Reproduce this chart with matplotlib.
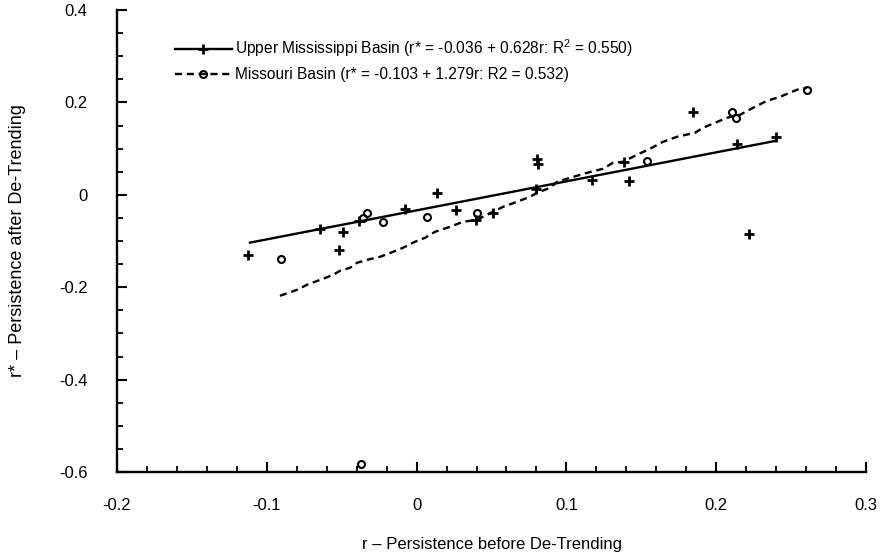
import matplotlib
import numpy as np

matplotlib.use("Agg")
import matplotlib.pyplot as plt  # noqa: E402
from matplotlib.lines import Line2D  # noqa: E402
from matplotlib.ticker import FormatStrFormatter, MultipleLocator  # noqa: E402

# Upper Mississippi Basin stations (r, r*)
upper_r = [-0.1126, -0.0645, -0.0518, -0.0491, -0.0384, -0.0077, 0.0136, 0.0263, 0.0397, 0.0510,
           0.0804, 0.0810, 0.0797, 0.1171, 0.1385, 0.1418, 0.1845, 0.2139, 0.2219, 0.2399]
upper_rstar = [-0.1299, -0.0736, -0.1190, -0.0801, -0.0563, -0.0303, 0.0043, -0.0325, -0.0541, -0.0390,
               0.0779, 0.0671, 0.0130, 0.0325, 0.0714, 0.0303, 0.1797, 0.1104, -0.0844, 0.1255]

# Missouri Basin stations (r, r*)
missouri_r = [-0.0905, -0.0358, -0.0331, -0.0224, 0.0069, 0.0403, 0.1538, 0.2105, 0.2132, 0.2606, -0.0371]
missouri_rstar = [-0.1385, -0.0498, -0.0390, -0.0584, -0.0476, -0.0390, 0.0736, 0.1797, 0.1667, 0.2273, -0.5823]

# fitted lines as drawn in the figure
upper_fit_r = [-0.112, 0.240]
upper_fit_rstar = [-0.104, 0.117]
missouri_fit_r = [-0.0912, -0.0798, -0.0732, -0.0625, -0.0558, -0.0511, -0.0444, -0.0398, -0.0331, -0.0244,
                  -0.0157, -0.0091, -0.0011, 0.0056, 0.0123, 0.0223, 0.0310, 0.0403, 0.0470, 0.0577,
                  0.0670, 0.0757, 0.0804, 0.0891, 0.0937, 0.1024, 0.1138, 0.1244, 0.1311, 0.1378,
                  0.1471, 0.1558, 0.1645, 0.1738, 0.1858, 0.1912, 0.1992, 0.2072, 0.2159, 0.2246,
                  0.2339, 0.2426, 0.2539, 0.2606]
missouri_fit_rstar = [-0.2186, -0.2056, -0.1948, -0.1818, -0.1732, -0.1645, -0.1580, -0.1472, -0.1407, -0.1342,
                      -0.1234, -0.1147, -0.1017, -0.0931, -0.0801, -0.0693, -0.0584, -0.0541, -0.0433, -0.0260,
                      -0.0152, -0.0043, 0.0043, 0.0152, 0.0281, 0.0368, 0.0476, 0.0563, 0.0693, 0.0714,
                      0.0866, 0.0996, 0.1147, 0.1255, 0.1342, 0.1450, 0.1558, 0.1667, 0.1732, 0.1883,
                      0.2035, 0.2121, 0.2273, 0.2316]

upper_label = "Upper Mississippi Basin (r* = -0.036 + 0.628r: R$^2$ = 0.550)"
missouri_label = "Missouri Basin (r* = -0.103 + 1.279r: R2 = 0.532)"

plt.rcParams["font.family"] = ["Liberation Sans", "DejaVu Sans"]
plt.rcParams["mathtext.fontset"] = "custom"
plt.rcParams["mathtext.rm"] = "Liberation Sans"
plt.rcParams["mathtext.it"] = "Liberation Sans:italic"
plt.rcParams["axes.unicode_minus"] = False

fig = plt.figure(figsize=(8.82, 5.55), dpi=100)
ax = fig.add_axes([117 / 882, 83 / 555, 749 / 882, 462 / 555])

ax.plot(upper_fit_r, upper_fit_rstar, color="black", lw=1.7, solid_capstyle="butt")
(dash,) = ax.plot(missouri_fit_r, missouri_fit_rstar, color="black", lw=1.7)
dash.set_dashes([3, 2])
ax.plot(upper_r, upper_rstar, ls="none", marker="+", ms=6.5, mew=2, color="black")
ax.plot(missouri_r, missouri_rstar, ls="none", marker="o", ms=5, mew=1.5, mfc="none", mec="black")

ax.set_xlim(-0.2, 0.3)
ax.set_ylim(-0.6, 0.4)
ax.xaxis.set_major_locator(MultipleLocator(0.1))
ax.xaxis.set_minor_locator(MultipleLocator(0.02))
ax.yaxis.set_major_locator(MultipleLocator(0.2))
ax.yaxis.set_minor_locator(MultipleLocator(0.05))
ax.xaxis.set_major_formatter(FormatStrFormatter("%g"))
ax.yaxis.set_major_formatter(FormatStrFormatter("%g"))

for side in ("top", "right"):
    ax.spines[side].set_visible(False)
for side in ("left", "bottom"):
    ax.spines[side].set_linewidth(1.7)

ax.tick_params(which="major", direction="in", length=7, width=1.5, labelsize=12)
ax.tick_params(which="minor", direction="in", length=4, width=1.3)
ax.tick_params(axis="x", which="major", pad=19)
ax.tick_params(axis="y", which="major", pad=21)

ax.set_xlabel("r \u2013 Persistence before De-Trending", fontsize=12, labelpad=17)
ax.set_ylabel("r* \u2013 Persistence after De-Trending", fontsize=13, labelpad=24)

upper_handle = Line2D([], [], color="black", lw=1.7, marker="+", ms=6.5, mew=2)
missouri_handle = Line2D([], [], color="black", lw=1.7, marker="o", ms=5, mew=1.5, mfc="none",
                         dashes=[3, 2])
ax.legend([upper_handle, missouri_handle], [upper_label, missouri_label], loc="upper left",
          bbox_to_anchor=(0.077, 0.94), frameon=False, fontsize=11.2, handlelength=3.7,
          handletextpad=0.2, labelspacing=0.5, borderpad=0, borderaxespad=0)

fig.savefig("out.png", dpi=100)
